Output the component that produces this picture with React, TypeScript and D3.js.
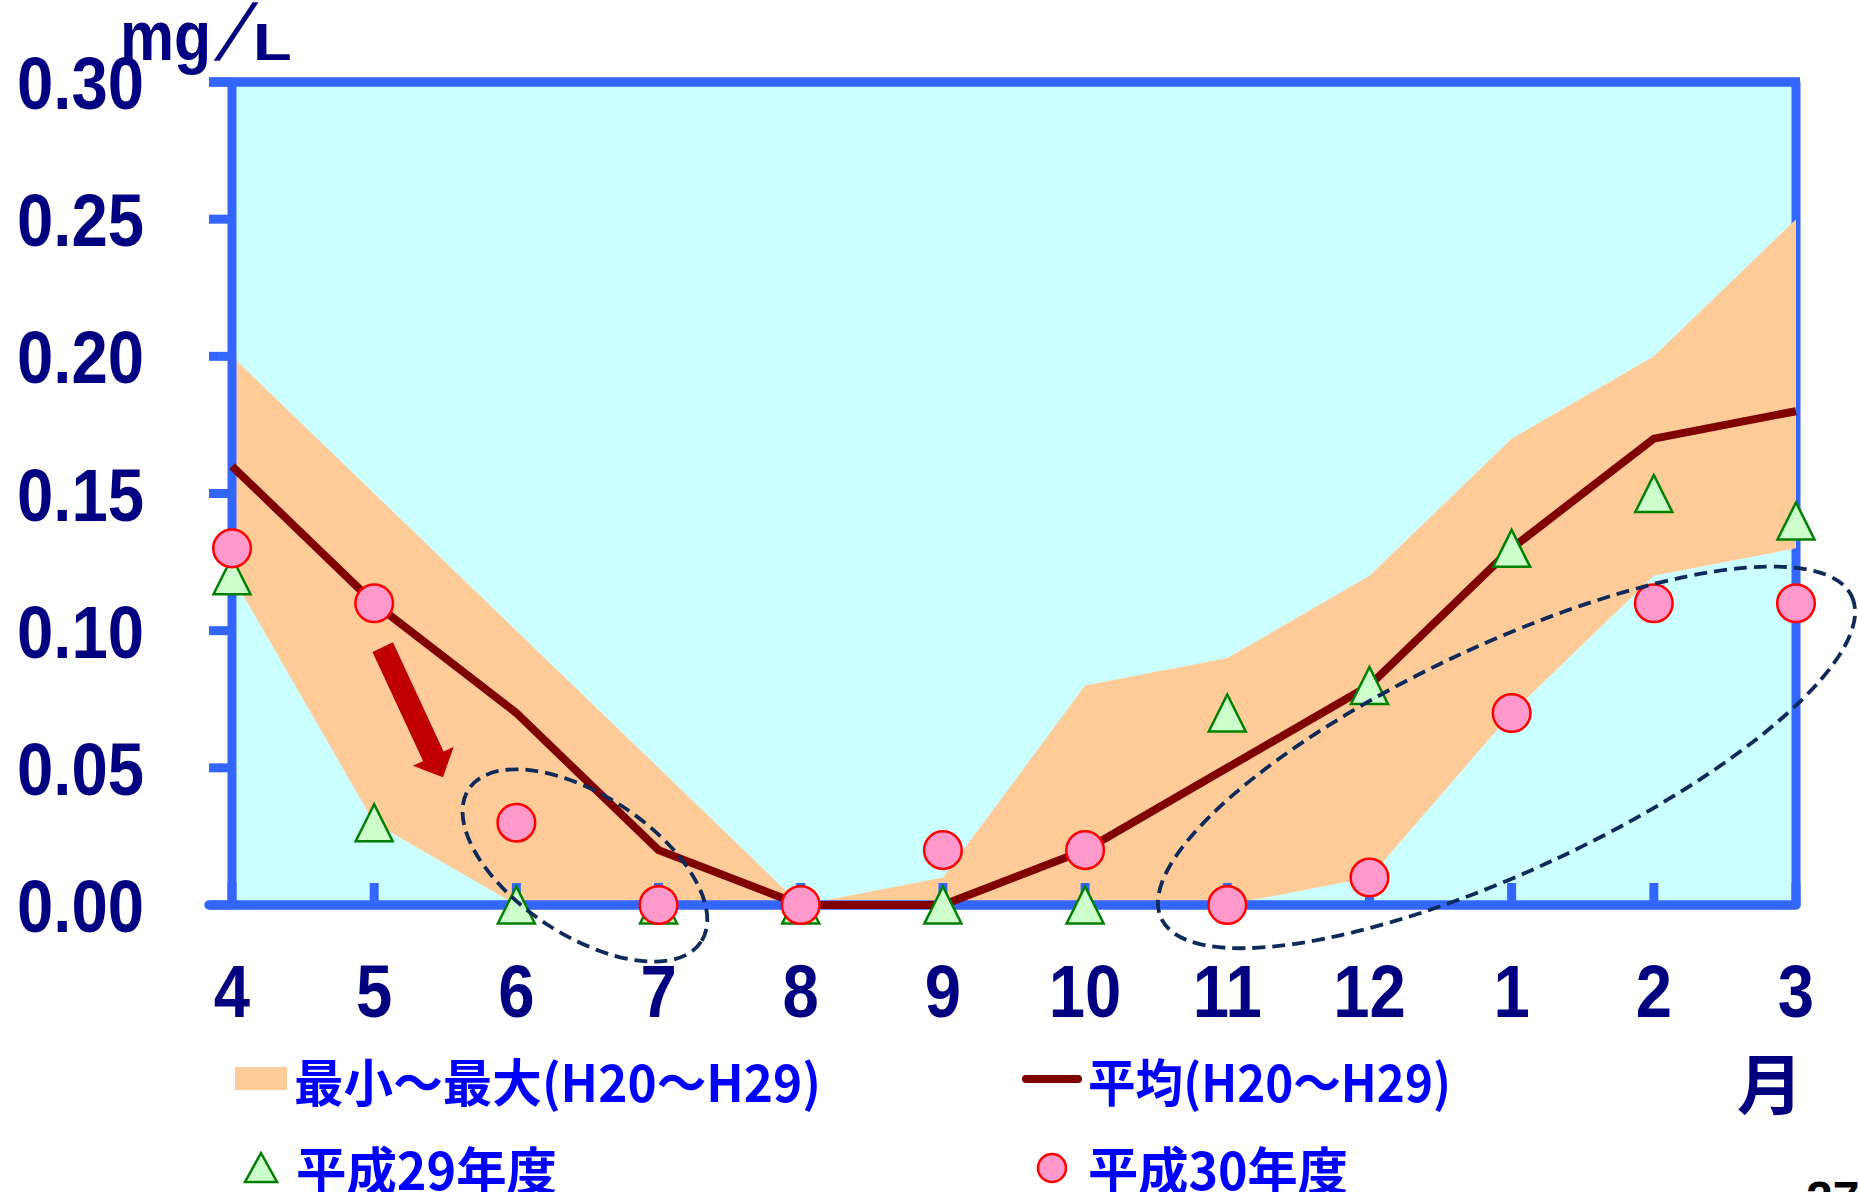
import React from 'react';
import * as d3 from 'd3';

// Month categories (fiscal year April → March)
const months = ['4', '5', '6', '7', '8', '9', '10', '11', '12', '1', '2', '3'];
// Min–max envelope, H20–H29 (mg/L)
const rangeMax = [0.2, 0.15, 0.1, 0.05, 0.0, 0.01, 0.08, 0.09, 0.12, 0.17, 0.2, 0.25];
const rangeMin = [0.12, 0.03, 0.0, 0.0, 0.0, 0.0, 0.0, 0.0, 0.01, 0.07, 0.12, 0.13];
// Average H20–H29
const meanValues = [0.16, 0.11, 0.07, 0.02, 0.0, 0.0, 0.02, 0.05, 0.08, 0.13, 0.17, 0.18];
// 平成29年度
const h29Values = [0.12, 0.03, 0.0, 0.0, 0.0, 0.0, 0.0, 0.07, 0.08, 0.13, 0.15, 0.14];
// 平成30年度
const h30Values = [0.13, 0.11, 0.03, 0.0, 0.0, 0.02, 0.02, 0.0, 0.01, 0.07, 0.11, 0.11];
const yTicks = [0, 0.05, 0.1, 0.15, 0.2, 0.25, 0.3];

// Highlight annotations, positioned in (month index, value) space
const arrowFrom = { i: 1.06, v: 0.094 };
const arrowTo = { i: 1.484, v: 0.0466 };
const highlightEllipses = [
  { i: 2.482, v: 0.0144, rx: 139, ry: 70, angle: 33.3 },
  { i: 8.964, v: 0.0538, rx: 381, ry: 113, angle: -25 },
];

const W = 1858;
const H = 1192;
const left = 232;
const right = 1796;
const top = 82;
const bottom = 905;

const AXIS = '#3366FF';
const NAVY = '#000080';
const BLUE = '#0000FF';
const NUM_FONT = '"Liberation Sans", Arial, sans-serif';
const JP_FONT = '"Noto Sans CJK JP", "Noto Sans", sans-serif';

export default function App() {
  const x = d3.scalePoint<string>().domain(months).range([left, right]).padding(0);
  const xi = d3.scaleLinear().domain([0, months.length - 1]).range([left, right]);
  const y = d3.scaleLinear().domain([0, 0.3]).range([bottom, top]);

  const band = d3
    .area<number>()
    .x((_, i) => x(months[i]) as number)
    .y0((_, i) => y(rangeMin[i]))
    .y1((_, i) => y(rangeMax[i]));

  const meanLine = d3
    .line<number>()
    .x((_, i) => x(months[i]) as number)
    .y((d) => y(d));

  const tri = (cx: number, cy: number, w: number, h: number) =>
    `M${cx},${cy - h / 2}L${cx + w / 2},${cy + h / 2}L${cx - w / 2},${cy + h / 2}Z`;

  // Block arrow from arrowFrom to arrowTo
  const ax0 = xi(arrowFrom.i);
  const ay0 = y(arrowFrom.v);
  const ax1 = xi(arrowTo.i);
  const ay1 = y(arrowTo.v);
  const len = Math.hypot(ax1 - ax0, ay1 - ay0);
  const ux = (ax1 - ax0) / len;
  const uy = (ay1 - ay0) / len;
  const px = -uy;
  const py = ux;
  const shaftHalf = 11.3;
  const headHalf = 22.5;
  const headLen = 23;
  const bx = ax1 - ux * headLen;
  const by = ay1 - uy * headLen;
  const arrowPts = [
    [ax0 + px * shaftHalf, ay0 + py * shaftHalf],
    [bx + px * shaftHalf, by + py * shaftHalf],
    [bx + px * headHalf, by + py * headHalf],
    [ax1, ay1],
    [bx - px * headHalf, by - py * headHalf],
    [bx - px * shaftHalf, by - py * shaftHalf],
    [ax0 - px * shaftHalf, ay0 - py * shaftHalf],
  ]
    .map((p) => p.join(','))
    .join(' ');

  return (
    <svg
      width={W}
      height={H}
      viewBox={`0 0 ${W} ${H}`}
      style={{ position: 'absolute', left: 0, top: 0, display: 'block', background: '#fff' }}
    >
      {/* plot background */}
      <rect x={left} y={top} width={right - left} height={bottom - top} fill="#CCFFFF" />
      <line x1={right} x2={right} y1={top} y2={bottom} stroke={AXIS} strokeWidth={9} />

      {/* min–max envelope */}
      <path d={band(rangeMax) ?? ''} fill="#FFCC99" />

      {/* frame and axes */}
      <line x1={209} x2={right + 4} y1={top} y2={top} stroke={AXIS} strokeWidth={9.5} />
      <line x1={left} x2={left} y1={top} y2={bottom} stroke={AXIS} strokeWidth={9} />
      <line x1={209} x2={right} y1={bottom} y2={bottom} stroke={AXIS} strokeWidth={9.5} strokeLinecap="round" />
      {yTicks.map((t) => (
        <line key={`yt${t}`} x1={209} x2={left} y1={y(t)} y2={y(t)} stroke={AXIS} strokeWidth={9} />
      ))}
      {months.map((m) => (
        <line
          key={`xt${m}`}
          x1={x(m)}
          x2={x(m)}
          y1={bottom}
          y2={bottom - 22}
          stroke={AXIS}
          strokeWidth={9}
        />
      ))}

      {/* average line */}
      <path
        d={meanLine(meanValues) ?? ''}
        fill="none"
        stroke="#800000"
        strokeWidth={8}
        strokeLinejoin="miter"
      />

      {/* H29 markers */}
      {h29Values.map((v, i) => (
        <path
          key={`t${i}`}
          d={tri(x(months[i]) as number, y(v), 37, 37)}
          fill="#CCFFCC"
          stroke="#008000"
          strokeWidth={2.5}
        />
      ))}

      {/* H30 markers */}
      {h30Values.map((v, i) => (
        <circle
          key={`c${i}`}
          cx={x(months[i])}
          cy={y(v)}
          r={18.8}
          fill="#FF99CC"
          stroke="#FF0000"
          strokeWidth={2.5}
        />
      ))}

      {/* highlight ellipses */}
      {highlightEllipses.map((e, k) => (
        <ellipse
          key={`e${k}`}
          cx={0}
          cy={0}
          rx={e.rx}
          ry={e.ry}
          transform={`translate(${xi(e.i)},${y(e.v)}) rotate(${e.angle})`}
          fill="none"
          stroke="#0E2A5A"
          strokeWidth={3.8}
          strokeDasharray="13 7"
        />
      ))}

      {/* downward arrow */}
      <polygon points={arrowPts} fill="#C00000" />

      {/* y tick labels */}
      {yTicks.map((t) => (
        <text
          key={`yl${t}`}
          transform={`translate(144,${y(t) + 27}) scale(0.87,1)`}
          textAnchor="end"
          fontFamily={NUM_FONT}
          fontWeight={700}
          fontSize={75}
          fill={NAVY}
        >
          {t.toFixed(2)}
        </text>
      ))}

      {/* x tick labels */}
      {months.map((m) => (
        <text
          key={`xl${m}`}
          transform={`translate(${x(m)},1017) scale(0.87,1)`}
          textAnchor="middle"
          fontFamily={NUM_FONT}
          fontWeight={700}
          fontSize={75}
          fill={NAVY}
        >
          {m}
        </text>
      ))}

      {/* unit: mg/L */}
      <g fontFamily={NUM_FONT} fontWeight={700} fontSize={52} fill={NAVY}>
        <text transform="translate(120,60) scale(1.17,1.36)">mg</text>
        <text transform="translate(214,60) skewX(-22) scale(1,1.05)" fontSize={76} fontWeight={400}>
          /
        </text>
        <text transform="translate(253,60) scale(1.22,1)">L</text>
      </g>

      {/* unit: month */}
      <text
        x={1770}
        y={1080}
        textAnchor="middle"
        dominantBaseline="central"
        fontFamily={JP_FONT}
        fontWeight={700}
        fontSize={66}
        fill={NAVY}
      >
        月
      </text>

      {/* legend */}
      <rect x={235} y={1067} width={52} height={23} fill="#FFCC99" />
      <text
        x={294}
        y={1080}
        dominantBaseline="central"
        fontFamily={JP_FONT}
        fontWeight={700}
        fontSize={51}
        fill={BLUE}
        textLength={527}
        lengthAdjust="spacingAndGlyphs"
      >
        最小～最大(H20～H29)
      </text>
      <line x1={1026} x2={1078} y1={1079} y2={1079} stroke="#800000" strokeWidth={8} strokeLinecap="round" />
      <text
        x={1088}
        y={1080}
        dominantBaseline="central"
        fontFamily={JP_FONT}
        fontWeight={700}
        fontSize={51}
        fill={BLUE}
        textLength={363}
        lengthAdjust="spacingAndGlyphs"
      >
        平均(H20～H29)
      </text>
      <path d={tri(261, 1167.5, 32, 29)} fill="#CCFFCC" stroke="#008000" strokeWidth={2.5} />
      <text
        x={296}
        y={1168}
        dominantBaseline="central"
        fontFamily={JP_FONT}
        fontWeight={700}
        fontSize={51}
        fill={BLUE}
        textLength={261}
        lengthAdjust="spacingAndGlyphs"
      >
        平成29年度
      </text>
      <circle cx={1052} cy={1168} r={14} fill="#FF99CC" stroke="#FF0000" strokeWidth={2.5} />
      <text
        x={1088}
        y={1168}
        dominantBaseline="central"
        fontFamily={JP_FONT}
        fontWeight={700}
        fontSize={51}
        fill={BLUE}
        textLength={260}
        lengthAdjust="spacingAndGlyphs"
      >
        平成30年度
      </text>

      {/* page number */}
      <text x={1806} y={1215} fontFamily={NUM_FONT} fontWeight={700} fontSize={48} fill="#000">
        27
      </text>
    </svg>
  );
}
